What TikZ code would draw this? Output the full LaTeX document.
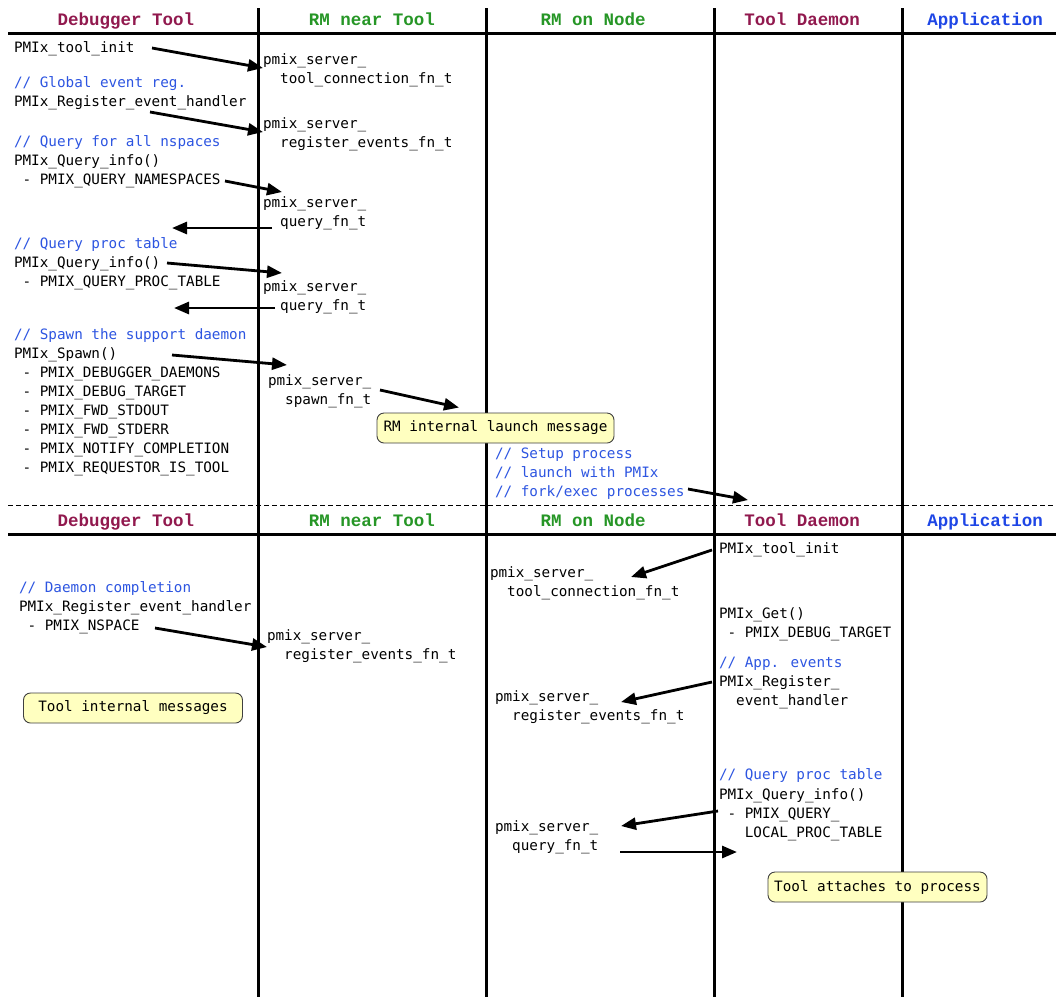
\documentclass[tikz,border=0pt]{standalone}
\usepackage{fontspec}
\usetikzlibrary{arrows.meta}
\newfontfamily\codefont{DejaVu Sans Mono}
\newfontfamily\headfont{Liberation Mono}
\definecolor{hdmaroon}{RGB}{145,25,78}
\definecolor{hdgreen}{RGB}{38,150,38}
\definecolor{hdblue}{RGB}{30,70,230}
\definecolor{cmtblue}{RGB}{45,85,225}
\definecolor{notefill}{RGB}{255,255,192}
\newcommand\cpad{\phantom{x}}
\tikzset{
  code/.style={anchor=base west, inner sep=0pt, outer sep=0pt, font=\codefont\fontsize{14.3}{19}\selectfont, text=black},
  cmt/.style={code, text=cmtblue},
  hdr/.style={anchor=base, inner sep=0pt, outer sep=0pt, font=\headfont\bfseries\fontsize{17.5}{20}\selectfont},
  note/.style={draw=black!75, line width=0.9pt, fill=notefill, rounded corners=7pt, minimum height=30pt, inner sep=0pt, font=\codefont\fontsize{14.3}{19}\selectfont},
  arr/.style={line width=2.8pt, -{Triangle[length=15pt,width=12pt]}},
  lane/.style={line width=3pt},
}
\begin{document}
\begin{tikzpicture}[x=1pt,y=-1pt]
\useasboundingbox (0,0) rectangle (1056,997);
\fill[white] (0,0) rectangle (1056,997);

% swimlane frame
\draw[lane] (8,33) -- (1056,33);
\draw[lane] (8,534) -- (1056,534);
\draw[line width=1pt, dash pattern=on 5pt off 3pt] (8,505) -- (1056,505);
\foreach \lx in {258,486,714,902} { \draw[lane] (\lx,8) -- (\lx,997); }

% headers, top
\node[hdr, text=hdmaroon] (ht1) at (126,25) {Debugger Tool};
\node[hdr, text=hdgreen]  (ht2) at (372,25) {RM near Tool};
\node[hdr, text=hdgreen]  (ht3) at (593,25) {RM on Node};
\node[hdr, text=hdmaroon] (ht4) at (802,25) {Tool Daemon};
\node[hdr, text=hdblue]   (ht5) at (985,25) {Application};
% headers, bottom
\node[hdr, text=hdmaroon] (hb1) at (126,526) {Debugger Tool};
\node[hdr, text=hdgreen]  (hb2) at (372,526) {RM near Tool};
\node[hdr, text=hdgreen]  (hb3) at (593,526) {RM on Node};
\node[hdr, text=hdmaroon] (hb4) at (802,526) {Tool Daemon};
\node[hdr, text=hdblue]   (hb5) at (985,526) {Application};

% ---------- top half: Debugger Tool ----------
\node[code] (a1)  at (14,52)  {PMIx\_tool\_init};
\node[cmt]  (a2)  at (14,87)  {// Global event reg.};
\node[code] (a3)  at (14,106) {PMIx\_Register\_event\_handler};
\node[cmt]  (a4)  at (14,146) {// Query for all nspaces};
\node[code] (a5)  at (14,165) {PMIx\_Query\_info()};
\node[code] (a6)  at (14,184) {\cpad- PMIX\_QUERY\_NAMESPACES};
\node[cmt]  (a7)  at (14,248) {// Query proc table};
\node[code] (a8)  at (14,267) {PMIx\_Query\_info()};
\node[code] (a9)  at (14,286) {\cpad- PMIX\_QUERY\_PROC\_TABLE};
\node[cmt]  (a10) at (14,339) {// Spawn the support daemon};
\node[code] (a11) at (14,358) {PMIx\_Spawn()};
\node[code] (a12) at (14,377) {\cpad- PMIX\_DEBUGGER\_DAEMONS};
\node[code] (a13) at (14,396) {\cpad- PMIX\_DEBUG\_TARGET};
\node[code] (a14) at (14,415) {\cpad- PMIX\_FWD\_STDOUT};
\node[code] (a15) at (14,434) {\cpad- PMIX\_FWD\_STDERR};
\node[code] (a16) at (14,453) {\cpad- PMIX\_NOTIFY\_COMPLETION};
\node[code] (a17) at (14,472) {\cpad- PMIX\_REQUESTOR\_IS\_TOOL};

% ---------- top half: RM near Tool ----------
\node[code] (b1)  at (263,64)  {pmix\_server\_};
\node[code] (b1b) at (263,83)  {\cpad\cpad tool\_connection\_fn\_t};
\node[code] (b2)  at (263,128) {pmix\_server\_};
\node[code] (b2b) at (263,147) {\cpad\cpad register\_events\_fn\_t};
\node[code] (b3)  at (263,207) {pmix\_server\_};
\node[code] (b3b) at (263,226) {\cpad\cpad query\_fn\_t};
\node[code] (b4)  at (263,291) {pmix\_server\_};
\node[code] (b4b) at (263,310) {\cpad\cpad query\_fn\_t};
\node[code] (b5)  at (268,385) {pmix\_server\_};
\node[code] (b5b) at (268,404) {\cpad\cpad spawn\_fn\_t};

\node[note, minimum width=237pt] (c1) at (495.5,428) {RM internal launch message};

% ---------- top half: RM on Node ----------
\node[cmt] (d1) at (495,458) {// Setup process};
\node[cmt] (d2) at (495,477) {// launch with PMIx};
\node[cmt] (d3) at (495,496) {// fork/exec processes};

% top arrows
\draw[arr] ([shift={(138,-4)}]a1.base west) -- ([shift={(0,4)}]b1.base west);
\draw[arr] ([shift={(136,6)}]a3.base west) -- ([shift={(0,4)}]b2.base west);
\draw[arr] ([shift={(211,-3)}]a6.base west) -- ([shift={(19,-15)}]b3.base west);
\draw[arr] ([shift={(9,2)}]b3b.base west) -- ([shift={(158,44)}]a6.base west);
\draw[arr] ([shift={(153,-4)}]a8.base west) -- ([shift={(19,-18)}]b4.base west);
\draw[arr] ([shift={(12,-2)}]b4b.base west) -- ([shift={(160,22)}]a9.base west);
\draw[arr] ([shift={(158,-3)}]a11.base west) -- ([shift={(19,-20)}]b5.base west);
\draw[arr] ([shift={(112,5)}]b5.base west) -- ([shift={(-36.5,-5)}]c1.north);
\draw[arr] ([shift={(193,-7)}]d3.base west) -- ([shift={(-54,-26)}]hb4.base);

% ---------- bottom half: Debugger Tool ----------
\node[cmt]  (e1) at (19,592) {// Daemon completion};
\node[code] (e2) at (19,611) {PMIx\_Register\_event\_handler};
\node[code] (e3) at (19,630) {\cpad- PMIX\_NSPACE};
\node[note, minimum width=219pt] (g1) at (133,708) {Tool internal messages};

% ---------- bottom half: RM near Tool ----------
\node[code] (f1)  at (267,640) {pmix\_server\_};
\node[code] (f1b) at (267,659) {\cpad\cpad register\_events\_fn\_t};

% ---------- bottom half: RM on Node ----------
\node[code] (h1)  at (490,577) {pmix\_server\_};
\node[code] (h1b) at (490,596) {\cpad\cpad tool\_connection\_fn\_t};
\node[code] (h2)  at (495,701) {pmix\_server\_};
\node[code] (h2b) at (495,720) {\cpad\cpad register\_events\_fn\_t};
\node[code] (h3)  at (495,831) {pmix\_server\_};
\node[code] (h3b) at (495,850) {\cpad\cpad query\_fn\_t};

% ---------- bottom half: Tool Daemon ----------
\node[code] (i1)  at (719,553) {PMIx\_tool\_init};
\node[code] (i2)  at (719,618) {PMIx\_Get()};
\node[code] (i3)  at (719,637) {\cpad- PMIX\_DEBUG\_TARGET};
\node[cmt]  (i4)  at (719,667) {// App. events};
\node[code] (i5)  at (719,686) {PMIx\_Register\_};
\node[code] (i6)  at (719,705) {\cpad\cpad event\_handler};
\node[cmt]  (i7)  at (719,779) {// Query proc table};
\node[code] (i8)  at (719,799) {PMIx\_Query\_info()};
\node[code] (i9)  at (719,818) {\cpad- PMIX\_QUERY\_};
\node[code] (i10) at (719,837) {\cpad\cpad\cpad LOCAL\_PROC\_TABLE};
\node[note, minimum width=219pt] (j1) at (877.5,887) {Tool attaches to process};

% bottom arrows
\draw[arr] ([shift={(136,-2)}]e3.base west) -- ([shift={(0,7)}]f1.base west);
\draw[arr] ([shift={(-7,-3)}]i1.base west) -- ([shift={(141,0)}]h1.base west);
\draw[arr] ([shift={(-7,-4)}]i5.base west) -- ([shift={(126,1)}]h2.base west);
\draw[arr] ([shift={(-1,-7)}]i9.base west) -- ([shift={(126,-5)}]h3.base west);
\draw[arr] ([shift={(125,2)}]h3b.base west) -- ([shift={(18,15)}]i10.base west);
\end{tikzpicture}
\end{document}
